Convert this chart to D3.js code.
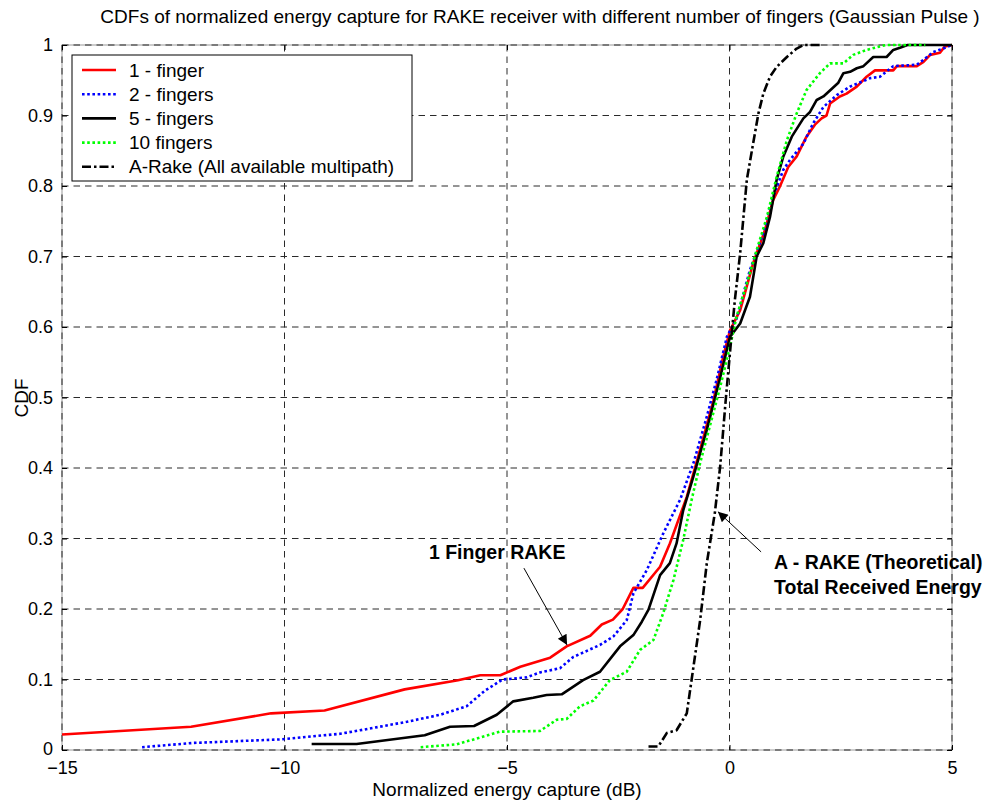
<!DOCTYPE html>
<html>
<head>
<meta charset="utf-8">
<script src="https://cdn.jsdelivr.net/npm/d3@7"></script>
<style>
  html, body { margin: 0; padding: 0; background: #fff; }
  svg { display: block; font-family: "Liberation Sans", Arial, sans-serif; }
</style>
</head>
<body>
<svg id="chart" width="996" height="805"></svg>
<script>
// Empirical CDF samples: [energy capture (dB), CDF]
const oneFinger = [[-15,0.022],[-12.1,0.033],[-10.3,0.052],[-9.1,0.056],[-7.3,0.086],[-6.1,0.099],[-5.6,0.106],[-5.15,0.106],[-4.7,0.118],[-4.03,0.131],[-3.66,0.147],[-3.13,0.162],[-2.87,0.178],[-2.62,0.185],[-2.4,0.2],[-2.16,0.23],[-1.95,0.23],[-1.56,0.26],[-1.34,0.293],[-0.96,0.359],[-0.66,0.426],[-0.36,0.496],[-0.14,0.558],[0.01,0.595],[0.24,0.624],[0.53,0.69],[0.8,0.738],[0.98,0.78],[1.13,0.799],[1.32,0.827],[1.51,0.842],[1.73,0.87],[1.92,0.887],[2.07,0.896],[2.18,0.9],[2.26,0.917],[2.48,0.927],[2.63,0.931],[2.86,0.941],[3.08,0.955],[3.27,0.964],[3.68,0.964],[3.76,0.97],[4.21,0.97],[4.36,0.976],[4.51,0.986],[4.73,0.989],[4.84,0.998],[5,1]];
const twoFingers = [[-13.2,0.004],[-12.05,0.01],[-10.1,0.015],[-8.75,0.023],[-8.3,0.028],[-7.25,0.04],[-6.5,0.05],[-5.91,0.062],[-5.5,0.084],[-5.1,0.1],[-4.56,0.103],[-4.26,0.11],[-3.81,0.116],[-3.51,0.132],[-2.91,0.149],[-2.61,0.161],[-2.31,0.184],[-2.16,0.222],[-1.86,0.255],[-1.49,0.307],[-1.11,0.355],[-0.81,0.407],[-0.51,0.473],[-0.29,0.525],[-0.06,0.586],[0.16,0.612],[0.46,0.681],[0.76,0.733],[0.98,0.785],[1.21,0.823],[1.36,0.837],[1.66,0.86],[1.88,0.889],[2.11,0.912],[2.41,0.929],[2.71,0.941],[3.16,0.953],[3.38,0.955],[3.68,0.97],[4.21,0.972],[4.36,0.979],[4.58,0.99],[4.8,0.995],[5,1]];
const fiveFingers = [[-9.39,0.0085],[-8.38,0.0085],[-6.85,0.021],[-6.28,0.033],[-5.74,0.034],[-5.23,0.05],[-4.86,0.069],[-4.41,0.074],[-4.11,0.078],[-3.77,0.079],[-3.29,0.099],[-2.91,0.111],[-2.46,0.147],[-2.16,0.163],[-1.97,0.182],[-1.82,0.199],[-1.56,0.248],[-1.34,0.265],[-1.19,0.293],[-1.04,0.34],[-0.81,0.388],[-0.51,0.454],[-0.21,0.528],[0.01,0.586],[0.24,0.605],[0.46,0.643],[0.61,0.7],[0.76,0.719],[0.91,0.756],[1.06,0.809],[1.21,0.842],[1.4,0.87],[1.66,0.896],[1.81,0.905],[1.96,0.922],[2.11,0.927],[2.3,0.938],[2.44,0.946],[2.56,0.96],[2.71,0.962],[2.86,0.967],[3.01,0.97],[3.23,0.983],[3.53,0.983],[3.68,0.993],[3.83,0.996],[4.0,1],[5,1]];
const tenFingers = [[-6.94,0.004],[-6.13,0.008],[-5.7,0.016],[-5.16,0.026],[-4.26,0.027],[-3.88,0.043],[-3.66,0.044],[-3.36,0.062],[-3.06,0.07],[-2.69,0.099],[-2.31,0.111],[-2.01,0.142],[-1.71,0.156],[-1.49,0.194],[-1.26,0.241],[-1.04,0.298],[-0.85,0.355],[-0.66,0.407],[-0.48,0.45],[-0.21,0.515],[0.01,0.572],[0.16,0.615],[0.39,0.662],[0.61,0.709],[0.84,0.756],[1.06,0.813],[1.29,0.865],[1.51,0.903],[1.73,0.936],[2.03,0.96],[2.26,0.974],[2.56,0.974],[2.78,0.986],[3.08,0.993],[3.38,0.998],[3.53,1],[4.4,1]];
const aRake = [[-1.82,0.005],[-1.6,0.005],[-1.41,0.024],[-1.19,0.028],[-0.96,0.052],[-0.81,0.118],[-0.66,0.184],[-0.51,0.265],[-0.33,0.336],[-0.21,0.402],[-0.08,0.5],[0.05,0.591],[0.12,0.638],[0.24,0.705],[0.39,0.809],[0.53,0.86],[0.65,0.903],[0.76,0.931],[0.91,0.955],[1.06,0.969],[1.29,0.983],[1.51,0.995],[1.66,1],[2.03,1]];

const seriesNames = ["1 - finger", "2 - fingers", "5 - fingers", "10 fingers", "A-Rake (All available multipath)"];
const xTicks = [-15, -10, -5, 0, 5];
const yTicks = [0, 0.1, 0.2, 0.3, 0.4, 0.5, 0.6, 0.7, 0.8, 0.9, 1];

const titleText = "CDFs of normalized energy capture for RAKE receiver with different number of fingers (Gaussian Pulse )";
const xLabel = "Normalized energy capture (dB)";
const yLabel = "CDF";

const series = [
  { name: seriesNames[0], data: oneFinger,   color: "#ff0000", width: 2.6, dash: null },
  { name: seriesNames[1], data: twoFingers,  color: "#0000ff", width: 2.6, dash: "2.6,2.6" },
  { name: seriesNames[2], data: fiveFingers, color: "#000000", width: 2.6, dash: null },
  { name: seriesNames[3], data: tenFingers,  color: "#00ff00", width: 2.6, dash: "2.6,2.6" },
  { name: seriesNames[4], data: aRake,       color: "#000000", width: 2.6, dash: "9,3,2.5,3" }
];

const svg = d3.select("#chart");
const margin = { left: 62, top: 45, right: 44, bottom: 55 };
const W = 996 - margin.left - margin.right;
const H = 805 - margin.top - margin.bottom;

const x = d3.scaleLinear().domain([-15, 5]).range([0, W]);
const y = d3.scaleLinear().domain([0, 1]).range([H, 0]);

const g = svg.append("g").attr("transform", `translate(${margin.left},${margin.top})`);

// Axes frame (solid, light) with dashed grid on top
g.append("rect").attr("x", 0).attr("y", 0).attr("width", W).attr("height", H)
  .attr("fill", "none").attr("stroke", "#9a9a9a").attr("stroke-width", 1);

const grid = g.append("g").attr("stroke", "#2a2a2a").attr("stroke-width", 1).attr("stroke-dasharray", "6.5,5");
grid.selectAll("line.gx").data(xTicks).enter().append("line")
  .attr("x1", d => x(d)).attr("x2", d => x(d)).attr("y1", 0).attr("y2", H);
grid.selectAll("line.gy").data(yTicks).enter().append("line")
  .attr("x1", 0).attr("x2", W).attr("y1", d => y(d)).attr("y2", d => y(d));

// Axes with inward ticks on all four sides
const tickLen = 5;
const fmtY = d => d3.format("~g")(d);
const bottomAxis = g.append("g").attr("transform", `translate(0,${H})`)
  .call(d3.axisBottom(x).tickValues(xTicks).tickSizeInner(-tickLen).tickSizeOuter(0).tickPadding(11).tickFormat(d3.format("~g")));
const leftAxis = g.append("g")
  .call(d3.axisLeft(y).tickValues(yTicks).tickSizeInner(-tickLen).tickSizeOuter(0).tickPadding(9).tickFormat(fmtY));
const topAxis = g.append("g")
  .call(d3.axisTop(x).tickValues(xTicks).tickSizeInner(-tickLen).tickSizeOuter(0).tickFormat(""));
const rightAxis = g.append("g").attr("transform", `translate(${W},0)`)
  .call(d3.axisRight(y).tickValues(yTicks).tickSizeInner(-tickLen).tickSizeOuter(0).tickFormat(""));
[bottomAxis, leftAxis, topAxis, rightAxis].forEach(a => {
  a.select(".domain").remove();
  a.selectAll(".tick line").attr("stroke", "#000").attr("stroke-width", 1);
  a.selectAll(".tick text").attr("fill", "#000").style("font-size", "18px")
    .style("font-family", "'Liberation Sans', Arial, sans-serif");
});
// the "0" label sits a touch higher so it clears the "-15" below it
leftAxis.selectAll(".tick").filter(d => d === 0).select("text").attr("dy", "0.25em");

// Curves
const line = d3.line().x(d => x(d[0])).y(d => y(d[1]));
const curves = g.append("g");
series.forEach(s => {
  curves.append("path").datum(s.data)
    .attr("d", line)
    .attr("fill", "none")
    .attr("stroke", s.color)
    .attr("stroke-width", s.width)
    .attr("stroke-linejoin", "round")
    .attr("stroke-dasharray", s.dash);
});

// Annotations
const defs = svg.append("defs");
defs.append("marker").attr("id", "arrowHead")
  .attr("viewBox", "0 0 10 10").attr("refX", 10).attr("refY", 5)
  .attr("markerWidth", 13).attr("markerHeight", 10).attr("markerUnits", "userSpaceOnUse")
  .attr("orient", "auto")
  .append("path").attr("d", "M0,0 L10,5 L0,10 Z").attr("fill", "#000");

const annotations = [
  { lines: ["1 Finger RAKE"], tx: -5.22, ty: 0.281, anchor: "middle", from: [-4.62, 0.258], to: [-3.65, 0.149] },
  { lines: ["A - RAKE (Theoretical)", "Total Received Energy"], tx: 1.0, ty: 0.267, anchor: "start", from: [0.71, 0.281], to: [-0.26, 0.338] }
];
annotations.forEach(a => {
  g.append("line")
    .attr("x1", x(a.from[0])).attr("y1", y(a.from[1]))
    .attr("x2", x(a.to[0])).attr("y2", y(a.to[1]))
    .attr("stroke", "#000").attr("stroke-width", 1)
    .attr("marker-end", "url(#arrowHead)");
  const t = g.append("text")
    .attr("x", x(a.tx)).attr("y", y(a.ty))
    .attr("text-anchor", a.anchor).attr("dominant-baseline", "central")
    .style("font-size", "19.5px").style("font-weight", "bold").attr("fill", "#000");
  a.lines.forEach((l, i) => t.append("tspan").attr("x", x(a.tx)).attr("dy", i === 0 ? 0 : 25.5).text(l));
});

// Legend
const legend = svg.append("g").attr("transform", "translate(72,55)");
legend.append("rect").attr("width", 340).attr("height", 126)
  .attr("fill", "#fff").attr("stroke", "#000").attr("stroke-width", 1);
series.forEach((s, i) => {
  const ry = 15 + i * 24.2;
  legend.append("line").attr("x1", 10).attr("x2", 44).attr("y1", ry).attr("y2", ry)
    .attr("stroke", s.color).attr("stroke-width", s.width).attr("stroke-dasharray", s.dash);
  legend.append("text").attr("x", 57).attr("y", ry).attr("dominant-baseline", "central")
    .style("font-size", "19px").attr("fill", "#000").text(s.name);
});

// Title and axis labels
svg.append("text").attr("x", 540).attr("y", 16).attr("text-anchor", "middle")
  .attr("dominant-baseline", "central").style("font-size", "19px").attr("fill", "#000").text(titleText);
svg.append("text").attr("x", 507).attr("y", 789).attr("text-anchor", "middle")
  .attr("dominant-baseline", "central").style("font-size", "19px").attr("fill", "#000").text(xLabel);
svg.append("text").attr("transform", "translate(21,398) rotate(-90)").attr("text-anchor", "middle")
  .attr("dominant-baseline", "central").style("font-size", "19px").attr("fill", "#000").text(yLabel);
</script>
</body>
</html>
